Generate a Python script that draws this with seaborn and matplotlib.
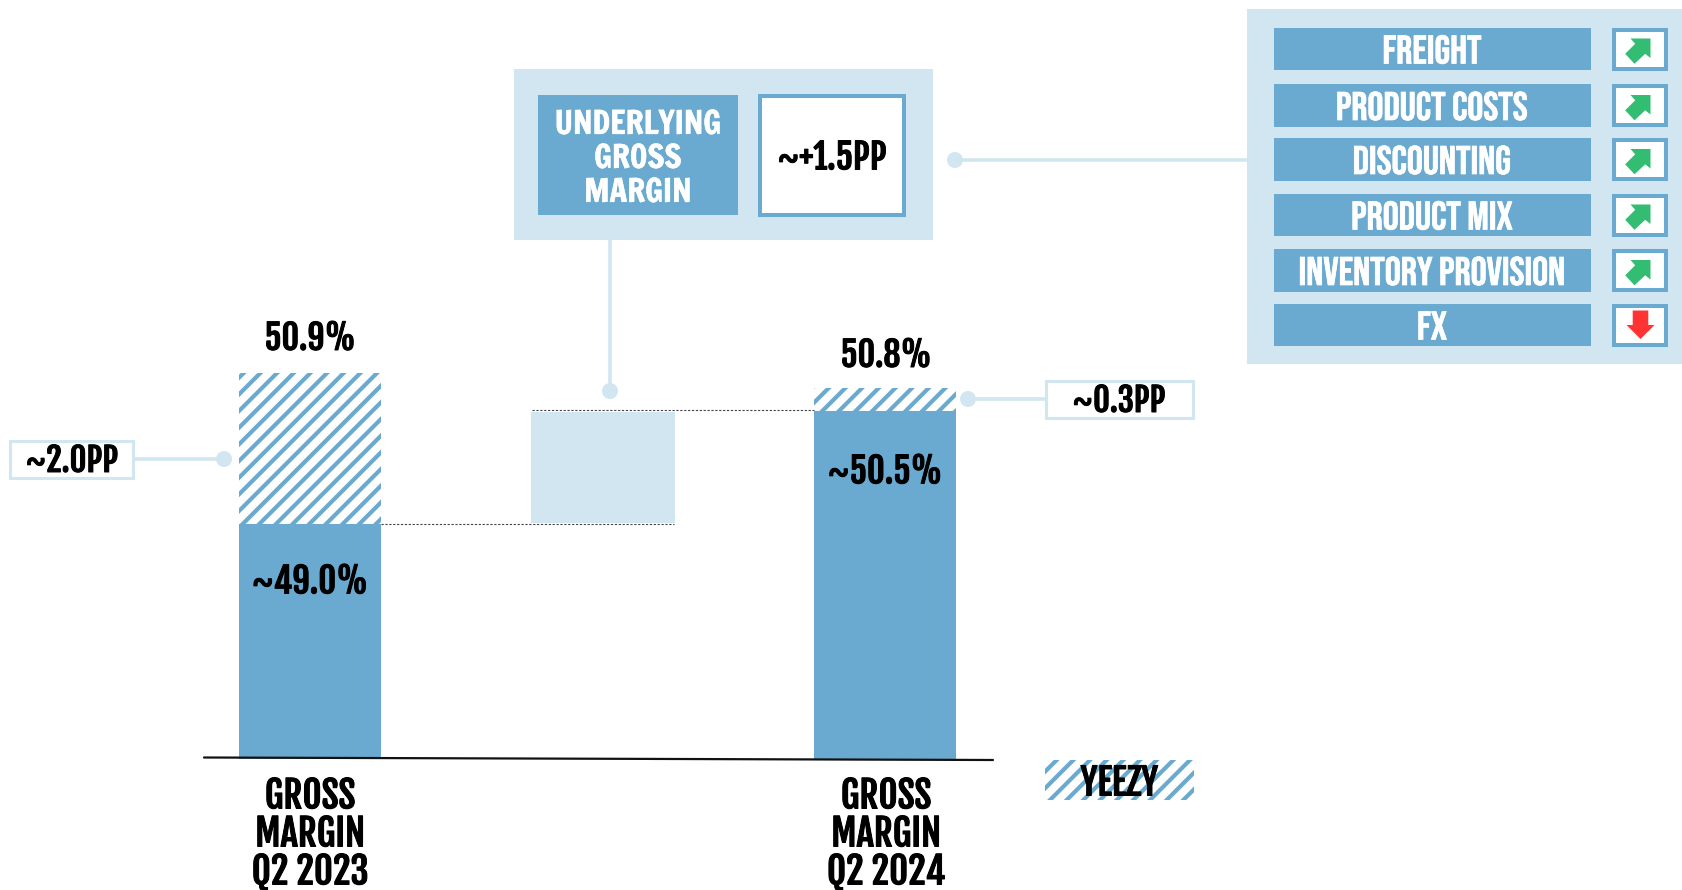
import matplotlib
matplotlib.use("Agg")
import matplotlib.pyplot as plt
from matplotlib.patches import Rectangle, Circle, Polygon
import matplotlib.patheffects as pe
import seaborn as sns

# ---------- data ----------
PERIOD_LABELS = ["GROSS\nMARGIN\nQ2 2023", "GROSS\nMARGIN\nQ2 2024"]
BASE_MARGIN = [49.0, 50.5]
YEEZY_PP = [2.0, 0.3]
TOTAL_LABELS = ["50.9%", "50.8%"]
BASE_LABELS = ["~49.0%", "~50.5%"]
YEEZY_LABELS = ["~2.0PP", "~0.3PP"]
UNDERLYING_PP = 1.5
UNDERLYING_LABEL = "~+1.5PP"
UNDERLYING_TITLE = ["UNDERLYING", "GROSS", "MARGIN"]
DRIVERS = ["FREIGHT", "PRODUCT COSTS", "DISCOUNTING", "PRODUCT MIX", "INVENTORY PROVISION", "FX"]
DRIVER_UP = [True, True, True, True, True, False]
LEGEND_LABEL = "YEEZY"

# ---------- style / layout ----------
W, H = 1683, 890
BLUE, LIGHT, GREEN, RED = "#6BAAD0", "#D2E6F1", "#33BD72", "#FF3333"
BAR_X = [310, 885]
MID_X = 603.5
BAR_W = 142
BASE_Y = 759
PX_PER_PP = 75.5
REF_Y = 524  # pixel row of 49.0
FALLBACK = ["Liberation Sans", "DejaVu Sans"]
F_BLACK = ["Fjalla One"] + FALLBACK
F_TITLE = ["Francois One"] + FALLBACK
F_ROW = ["Bebas Neue"] + FALLBACK

sns.set_theme(style="white")
plt.rcParams["font.family"] = F_BLACK
plt.rcParams["hatch.linewidth"] = 3.0

fig = plt.figure(figsize=(W / 100, H / 100), dpi=100, facecolor="white")

ax = fig.add_axes([0, (H - BASE_Y) / H, 1, BASE_Y / H])
totals = [b + y for b, y in zip(BASE_MARGIN, YEEZY_PP)]
bw = BAR_W / (BAR_X[1] - BAR_X[0])
sns.barplot(x=BAR_X, y=totals, native_scale=True, width=bw, color="white", saturation=1,
            hatch="//", edgecolor=BLUE, linewidth=0, ax=ax, zorder=2)
sns.barplot(x=BAR_X, y=BASE_MARGIN, native_scale=True, width=bw, color=BLUE, saturation=1,
            linewidth=0, ax=ax, zorder=3)
ax.bar(MID_X, UNDERLYING_PP, bottom=BASE_MARGIN[0], width=BAR_W + 4, color=LIGHT,
       edgecolor="white", linewidth=1.44, zorder=2)
ax.set_xlim(0, W)
ax.set_ylim(BASE_MARGIN[0] - (BASE_Y - REF_Y) / PX_PER_PP, BASE_MARGIN[0] + REF_Y / PX_PER_PP)
ax.axis("off")
ax.patch.set_alpha(0)

ov = fig.add_axes([0, 0, 1, 1], zorder=5)
ov.set_xlim(0, W)
ov.set_ylim(H, 0)
ov.axis("off")
ov.patch.set_alpha(0)


def rect(x0, y0, x1, y1, fc, ec="none", lw=0.0, z=2):
    ov.add_patch(Rectangle((x0, y0), x1 - x0, y1 - y0, facecolor=fc, edgecolor=ec, linewidth=lw, zorder=z))


def label(x, y, s, size, color="black", z=6, family=None, bold=0.7):
    t = ov.text(x, y, s, fontsize=size, color=color, ha="center", va="center_baseline", zorder=z,
                family=family or F_BLACK)
    if bold:
        t.set_path_effects([pe.withStroke(linewidth=bold, foreground=color)])


def leader(x0, y0, x1, y1, dot=None):
    ov.plot([x0, x1], [y0, y1], color=LIGHT, lw=2.6, solid_capstyle="butt", zorder=1)
    if dot:
        ov.add_patch(Circle(dot, 8, facecolor=LIGHT, edgecolor="none", zorder=1))


ov.plot([204, 993], [757.5, 760], color="#111111", lw=1.6, zorder=1)
ov.plot([381, 674], [524, 524], color="#444444", lw=0.8, ls=(0, (2, 1.5)), zorder=6)
ov.plot([532, 814], [410, 410], color="#444444", lw=0.8, ls=(0, (2, 1.5)), zorder=6)

label(310, 335, TOTAL_LABELS[0], 24.5)
label(886, 352, TOTAL_LABELS[1], 24.5)
label(310, 578, BASE_LABELS[0], 25)
label(885, 468, BASE_LABELS[1], 25)
for x, s in zip((310, 886), PERIOD_LABELS):
    for y, line in zip((792, 830, 868), s.split("\n")):
        label(x, y, line, 26.5)

leader(134, 459, 224, 459, (224, 459))
rect(10, 440.5, 133, 477.5, "white", LIGHT, 2.2)
label(72, 457, YEEZY_LABELS[0], 23.5)
leader(968, 399, 1045, 399, (968, 399))
rect(1046.5, 381, 1193, 417.5, "white", LIGHT, 2.2)
label(1119, 397, YEEZY_LABELS[1], 23.5)

ov.add_patch(Rectangle((1045.5, 760), 149, 40, facecolor="white", edgecolor=BLUE, hatch="//", linewidth=0, zorder=2))
label(1119.5, 779, LEGEND_LABEL, 26)

leader(610, 240, 610, 391, (610, 391))
leader(955, 160, 1247, 160, (955, 160))
rect(514.5, 69, 933, 240, LIGHT)
rect(538, 95, 738.5, 215, BLUE, z=3)
rect(760, 96, 904.5, 215, "white", BLUE, 2.9, z=3)
for y, s in zip((122, 156, 190), UNDERLYING_TITLE):
    label(638, y, s, 23, "white", family=F_TITLE, bold=0.4)
label(832, 154, UNDERLYING_LABEL, 25)

rect(1247.5, 9, W, 364, LIGHT)
ROW_TOP = [28, 84, 138, 194, 249, 304]
ROW_BOT = [70, 127, 181, 236, 292, 346]
for top, bot, name, up in zip(ROW_TOP, ROW_BOT, DRIVERS, DRIVER_UP):
    rect(1274, top, 1591, bot, BLUE, z=3)
    label(1432, (top + bot) / 2, name, 28.8, "white", family=F_ROW, bold=0.5)
    cx, cy = 1640.5, (top + bot) / 2
    rect(cx - 26, cy - 19.5, cx + 26, cy + 19.5, "white", BLUE, 2.9, z=3)
    if up:
        pts = [(-10, -10.5), (10, -10.5), (10, 9), (4.7, 4.8), (-6, 14.8), (-15.3, 4.8), (-5.3, -5.2)]
    else:
        pts = [(-7.8, -14.5), (7.8, -14.5), (7.8, 0), (14, 0), (0, 14), (-14, 0), (-7.8, 0)]
    ov.add_patch(Polygon([(cx + a, cy + b) for a, b in pts], closed=True,
                         facecolor=GREEN if up else RED, edgecolor="none", zorder=4))

fig.savefig("out.png", dpi=100, facecolor="white")
